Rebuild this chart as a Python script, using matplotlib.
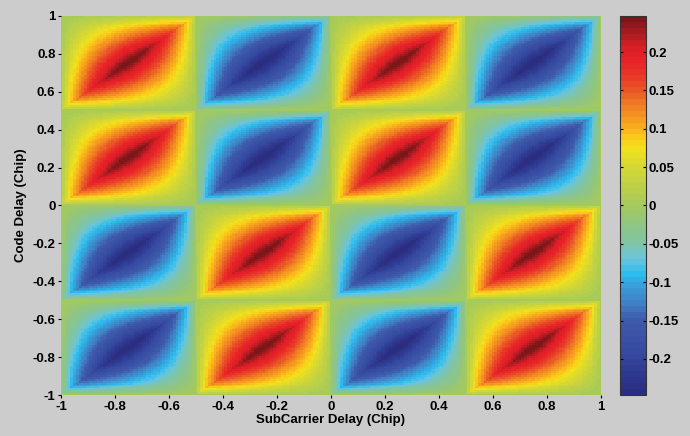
import numpy as np
import matplotlib
matplotlib.use('Agg')
import matplotlib.pyplot as plt
from matplotlib.colors import LinearSegmentedColormap

# Signo de cada celda (filas de arriba hacia abajo, columnas de izquierda a derecha)
signos_celdas = np.array([
    [1, -1, 1, -1],
    [1, -1, 1, -1],
    [-1, 1, -1, 1],
    [-1, 1, -1, 1],
])
pico = 0.25            # valor maximo de cada lente
exponente = 0.8        # ancho de la lente (leido a ojo)
limite_color = 0.247   # rango de la barra de colores
paso = 0.01            # resolucion de la malla (Chip)

ticks_ejes = [-1, -0.8, -0.6, -0.4, -0.2, 0, 0.2, 0.4, 0.6, 0.8, 1]
ticks_barra = [-0.2, -0.15, -0.1, -0.05, 0, 0.05, 0.1, 0.15, 0.2]

anclas = [
    (-0.247, '#2b2d80'), (-0.22, '#2f3a90'), (-0.2, '#34479e'), (-0.15, '#3f5bab'),
    (-0.13, '#4080c4'), (-0.11, '#3a9ad6'), (-0.09, '#2dbcee'), (-0.07, '#6ac6dc'),
    (-0.05, '#80c4a6'), (-0.025, '#90c683'), (0.0, '#a5ca5c'), (0.03, '#c0d244'),
    (0.05, '#d4d835'), (0.075, '#f2e11c'), (0.09, '#fac81a'), (0.1, '#f9b41c'),
    (0.12, '#f49322'), (0.14, '#ef7024'), (0.15, '#ea5a26'), (0.17, '#e83a28'),
    (0.19, '#e82228'), (0.21, '#dc1e26'), (0.225, '#b01d22'), (0.247, '#7b1619'),
]
cmap = LinearSegmentedColormap.from_list(
    'mapa', [((v + limite_color) / (2 * limite_color), c) for v, c in anclas], N=64)

# Malla
x = np.arange(-1, 1 + paso / 2, paso)
y = np.arange(-1, 1 + paso / 2, paso)
X, Y = np.meshgrid(x, y)
col = np.clip(((X + 1) / 0.5).astype(int), 0, 3)
fil = np.clip(((1 - Y) / 0.5).astype(int), 0, 3)
u = (X + 1) / 0.5 - col
v = (Y + 1) / 0.5 - (3 - fil)
forma = np.clip(4 * (np.minimum(u, v) - u * v), 0, 1) ** exponente
Z = signos_celdas[fil, col] * forma * pico

fig = plt.figure(figsize=(6.9, 4.36), dpi=100)
fig.patch.set_facecolor('#cccccc')
plt.rcParams['font.family'] = ['Liberation Sans', 'DejaVu Sans']

ax = fig.add_axes([61 / 690, 41 / 436, 540 / 690, 379 / 436])
im = ax.imshow(Z, origin='lower', extent=[-1 - paso / 2, 1 + paso / 2, -1 - paso / 2, 1 + paso / 2],
               cmap=cmap, vmin=-limite_color, vmax=limite_color, aspect='auto', interpolation='nearest')
ax.set_xlim(-1, 1)
ax.set_ylim(-1, 1)
ax.set_xticks(ticks_ejes)
ax.set_yticks(ticks_ejes)
ax.set_xticklabels(['%g' % t for t in ticks_ejes], fontsize=9.5, fontweight='bold')
ax.set_yticklabels(['%g' % t for t in ticks_ejes], fontsize=9.5, fontweight='bold')
ax.tick_params(direction='out', length=2.5, width=0.8, pad=1.5)
for s in ax.spines.values():
    s.set_visible(False)
ax.set_xlabel('SubCarrier Delay (Chip)', fontsize=9.5, fontweight='bold', labelpad=1)
ax.set_ylabel('Code Delay (Chip)', fontsize=9.5, fontweight='bold', labelpad=4)

cax = fig.add_axes([620 / 690, 41 / 436, 26 / 690, 379 / 436])
cb = fig.colorbar(im, cax=cax, ticks=ticks_barra)
cb.ax.set_yticklabels(['%g' % t for t in ticks_barra], fontsize=9.5, fontweight='bold')
cb.ax.tick_params(direction='in', length=2.5, width=0.8, left=True, right=True, pad=2)
cb.outline.set_edgecolor('#333333')
cb.outline.set_linewidth(0.8)

fig.savefig('out.png', dpi=100, facecolor=fig.get_facecolor())
